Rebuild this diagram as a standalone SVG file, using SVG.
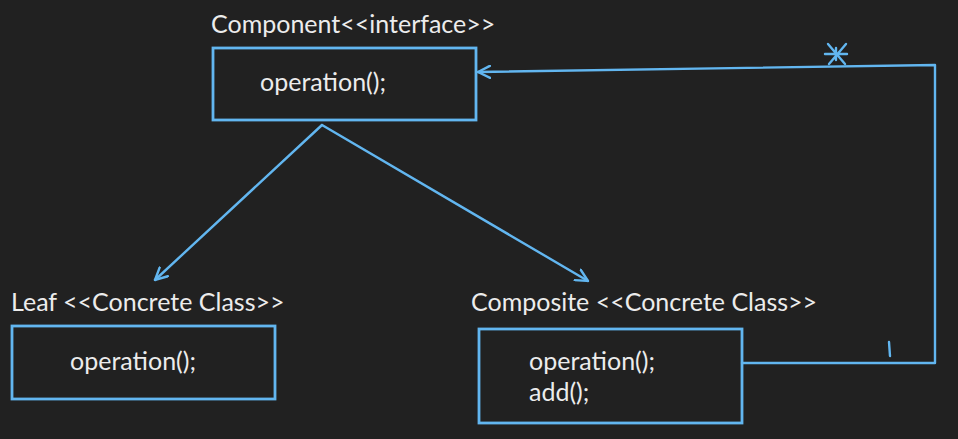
<svg xmlns="http://www.w3.org/2000/svg" width="958" height="439" viewBox="0 0 958 439">
<defs>
<style>
.box{fill:none;stroke:#62b6f0;stroke-width:2.8}
.ln{fill:none;stroke:#62b6f0;stroke-width:2.4;stroke-linecap:round;stroke-linejoin:round}
.t{font-family:Lato,"Open Sans",sans-serif;font-size:25px;fill:#ececec}
</style>
<marker id="arr" viewBox="0 0 14 14" refX="13" refY="7" markerWidth="14" markerHeight="14" markerUnits="userSpaceOnUse" orient="auto">
<path d="M1,1 L13,7 L1,13" fill="none" stroke="#62b6f0" stroke-width="2.4" stroke-linecap="round"/>
</marker>
</defs>
<rect width="958" height="439" fill="#212121"/>
<g id="component">
<text class="t" x="211" y="33">Component&lt;&lt;interface&gt;&gt;</text>
<rect class="box" x="213" y="48" width="263" height="72"/>
<text class="t" x="260" y="91">operation();</text>
</g>
<g id="leaf">
<text class="t" x="11" y="311">Leaf &lt;&lt;Concrete Class&gt;&gt;</text>
<rect class="box" x="12" y="326" width="263" height="73"/>
<text class="t" x="70" y="370">operation();</text>
</g>
<g id="composite">
<text class="t" x="471" y="311">Composite &lt;&lt;Concrete Class&gt;&gt;</text>
<rect class="box" x="479" y="329" width="263" height="94"/>
<text class="t" x="529" y="370">operation();</text>
<text class="t" x="529" y="401">add();</text>
</g>
<g id="connectors">
<path class="ln" d="M322,125 L155,280" marker-end="url(#arr)"/>
<path class="ln" d="M322,125 L588,281" marker-end="url(#arr)"/>
<path class="ln" d="M742,363 L935,363 L935,65 L478,72" marker-end="url(#arr)"/>
<path class="ln" d="M825,54 L847,54 M828,44 L845,64 M846,44 L829,64 M836,48 L836,60"/>
<path class="ln" d="M889,342 L890,356"/>
</g>
</svg>
